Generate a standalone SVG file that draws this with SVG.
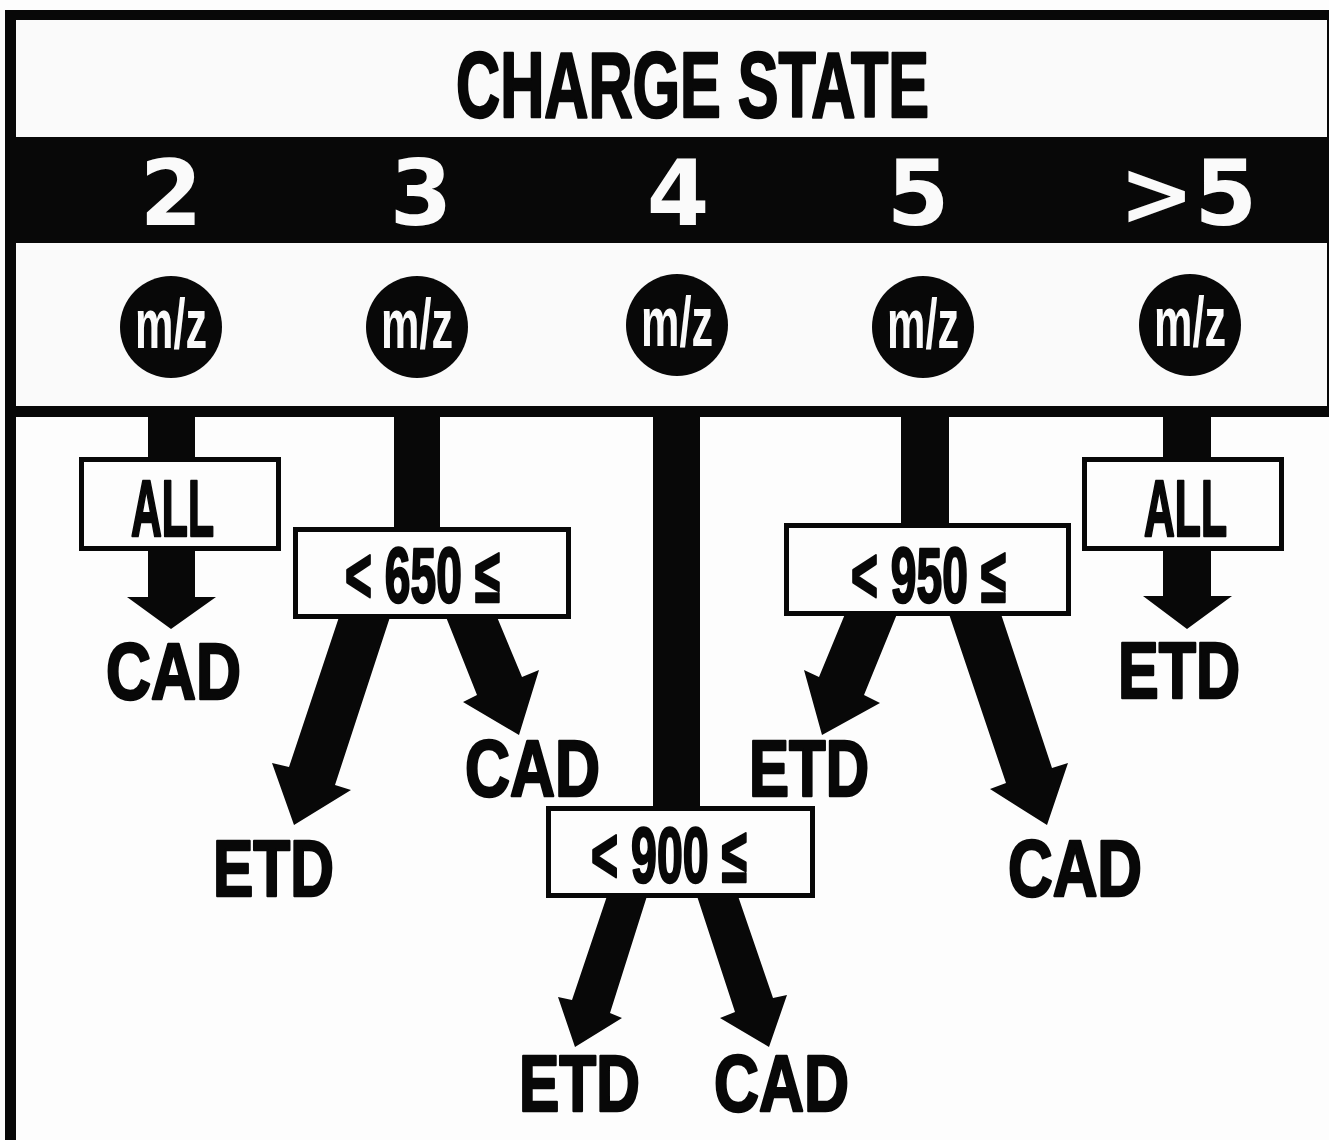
<svg xmlns="http://www.w3.org/2000/svg" width="1329" height="1140" viewBox="0 0 1329 1140">
<style>
.ink{fill:#080808}
.box{fill:#fdfdfd;stroke:#080808;stroke-width:5}
.t{font-family:"Liberation Sans",Arial,sans-serif;font-weight:bold;fill:#080808;stroke:#080808;stroke-width:2.5;stroke-linejoin:round}
.num{font-family:"DejaVu Sans",Verdana,sans-serif;font-weight:bold;fill:#fafafa;font-size:90px;text-anchor:middle}
.mz{font-family:"Liberation Sans",Arial,sans-serif;font-weight:bold;fill:#fafafa;font-size:70px}
.lbl{font-size:79px}
.cond{font-size:77px}
</style>
<rect width="1329" height="1140" fill="#fdfdfd"/>
<g id="header">
  <rect x="5" y="10" width="1340" height="407" class="ink"/>
  <rect x="16" y="20" width="1311" height="117" fill="#fafafa"/>
  <rect x="16" y="243" width="1311" height="163" fill="#fafafa"/>
  <rect x="5" y="410" width="11" height="730" class="ink"/>
  <text class="t" x="456" y="117" font-size="93" stroke-width="3" textLength="473" lengthAdjust="spacingAndGlyphs">CHARGE STATE</text>
  <text class="num" x="171" y="225">2</text>
  <text class="num" x="421" y="225">3</text>
  <text class="num" x="678" y="225">4</text>
  <text class="num" x="918" y="225">5</text>
  <text class="num" x="1188" y="225">&gt;5</text>
</g>
<g id="connectors" class="ink">
  <polygon points="148,417 195,417 195,597 216,597 171,629 127,597 148,597"/>
  <rect x="394" y="415" width="46" height="114"/>
  <polygon points="339,617 390,617 335,785 351,790 294,825 272,763 289,767"/>
  <polygon points="446,617 497,617 522,677 539,670 519,735 463,702 477,695"/>
  <rect x="653" y="415" width="47" height="393"/>
  <polygon points="607,896 647,896 610,1013 622,1018 575,1047 558,997 572,1000"/>
  <polygon points="697,896 738,896 773,998 787,995 769,1047 720,1018 735,1012"/>
  <rect x="901" y="415" width="48" height="110"/>
  <polygon points="845,614 897,614 864,695 880,703 822,735 804,670 819,677"/>
  <polygon points="949,614 1001,614 1052,768 1068,763 1047,825 990,789 1006,783"/>
  <polygon points="1163,417 1211,417 1211,596 1232,596 1187,629 1143,596 1163,596"/>
</g>
<g id="mz-2"><circle cx="171" cy="327" r="51" class="ink"/><text class="mz" x="135" y="348" textLength="72" lengthAdjust="spacingAndGlyphs">m/z</text></g>
<g id="mz-3"><circle cx="417" cy="327" r="51" class="ink"/><text class="mz" x="381" y="348" textLength="72" lengthAdjust="spacingAndGlyphs">m/z</text></g>
<g id="mz-4"><circle cx="677" cy="325" r="51" class="ink"/><text class="mz" x="641" y="346" textLength="72" lengthAdjust="spacingAndGlyphs">m/z</text></g>
<g id="mz-5"><circle cx="923" cy="327" r="51" class="ink"/><text class="mz" x="887" y="348" textLength="72" lengthAdjust="spacingAndGlyphs">m/z</text></g>
<g id="mz-gt5"><circle cx="1190" cy="325" r="51" class="ink"/><text class="mz" x="1154" y="346" textLength="72" lengthAdjust="spacingAndGlyphs">m/z</text></g>
<g id="all-2"><rect x="81.5" y="459.5" width="197" height="89" class="box"/><text class="t lbl" x="131" y="536" textLength="83" lengthAdjust="spacingAndGlyphs">ALL</text></g>
<g id="split-650"><rect x="295.5" y="529.5" width="273" height="87" class="box"/><text class="t cond" x="345" y="602" textLength="155" lengthAdjust="spacingAndGlyphs">&lt; 650 ≤</text></g>
<g id="split-900"><rect x="548.5" y="808.5" width="264" height="87" class="box"/><text class="t cond" x="591" y="882" textLength="156" lengthAdjust="spacingAndGlyphs">&lt; 900 ≤</text></g>
<g id="split-950"><rect x="786.5" y="525.5" width="282" height="88" class="box"/><text class="t cond" x="851" y="602" textLength="155" lengthAdjust="spacingAndGlyphs">&lt; 950 ≤</text></g>
<g id="all-gt5"><rect x="1084.5" y="459.5" width="197" height="89" class="box"/><text class="t lbl" x="1144" y="536" textLength="83" lengthAdjust="spacingAndGlyphs">ALL</text></g>
<g id="cad-2"><text class="t lbl" x="106" y="699" textLength="135" lengthAdjust="spacingAndGlyphs">CAD</text></g>
<g id="etd-3"><text class="t lbl" x="213" y="896" textLength="121" lengthAdjust="spacingAndGlyphs">ETD</text></g>
<g id="cad-3"><text class="t lbl" x="465" y="796" textLength="135" lengthAdjust="spacingAndGlyphs">CAD</text></g>
<g id="etd-4"><text class="t lbl" x="519" y="1111" textLength="121" lengthAdjust="spacingAndGlyphs">ETD</text></g>
<g id="cad-4"><text class="t lbl" x="714" y="1111" textLength="135" lengthAdjust="spacingAndGlyphs">CAD</text></g>
<g id="etd-5"><text class="t lbl" x="749" y="796" textLength="120" lengthAdjust="spacingAndGlyphs">ETD</text></g>
<g id="cad-5"><text class="t lbl" x="1008" y="896" textLength="134" lengthAdjust="spacingAndGlyphs">CAD</text></g>
<g id="etd-gt5"><text class="t lbl" x="1118" y="698" textLength="122" lengthAdjust="spacingAndGlyphs">ETD</text></g>
</svg>
